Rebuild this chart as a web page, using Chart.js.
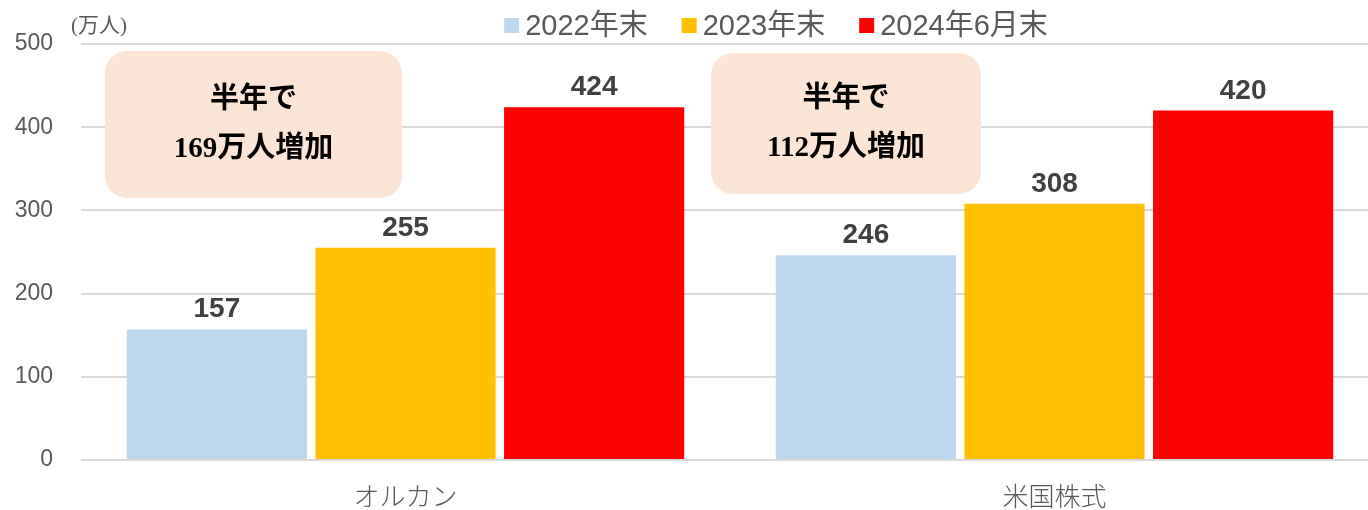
<!DOCTYPE html>
<html>
<head>
<meta charset="utf-8">
<script src="https://cdn.jsdelivr.net/npm/chart.js@4.4.0/dist/chart.umd.min.js"></script>
<style>
  html, body { margin: 0; padding: 0; background: #fff; overflow: hidden; }
  #wrap { width: 1380px; height: 510px; position: relative; }
</style>
</head>
<body>
<div id="wrap"><canvas id="chart"></canvas></div>
<script>
// data
var categories = ['オルカン', '米国株式'];
var seriesNames = ['2022年末', '2023年末', '2024年6月末'];
var values2022 = [157, 246];
var values2023 = [255, 308];
var values2024 = [424, 420];
var yTicks = [0, 100, 200, 300, 400, 500];
var unitLabel = '(万人)';
var noteLines = [
  ['半年で', '169万人増加'],
  ['半年で', '112万人増加']
];

var colors = ['#BDD7EE', '#FFC000', '#FF0000'];
var sansFont = '"Liberation Sans", Arial, "Noto Sans CJK JP", sans-serif';
var serifFont = '"Liberation Serif", "DejaVu Serif", "Noto Sans CJK JP", serif';

// labels above each bar
var barLabels = {
  id: 'barLabels',
  afterDatasetsDraw: function(chart) {
    var ctx = chart.ctx;
    ctx.save();
    ctx.font = 'bold 28px ' + sansFont;
    ctx.fillStyle = '#404040';
    ctx.textAlign = 'center';
    ctx.textBaseline = 'alphabetic';
    chart.data.datasets.forEach(function(ds, i) {
      var meta = chart.getDatasetMeta(i);
      meta.data.forEach(function(bar, j) {
        ctx.fillText(String(ds.data[j]), bar.x, bar.y - 12);
      });
    });
    ctx.restore();
  }
};

// legend, unit and the two rounded notes
var extras = {
  id: 'extras',
  afterDraw: function(chart) {
    var ctx = chart.ctx;
    var area = chart.chartArea;
    ctx.save();

    // unit label
    ctx.font = '21px ' + serifFont;
    ctx.fillStyle = '#595959';
    ctx.textAlign = 'left';
    ctx.textBaseline = 'middle';
    ctx.fillText(unitLabel, area.left - 10, 26);

    // legend
    ctx.font = '29px ' + sansFont;
    var box = 15, gapText = 6, gapItem = 34;
    var widths = seriesNames.map(function(n) { return box + gapText + ctx.measureText(n).width; });
    var total = widths.reduce(function(a, b) { return a + b; }, 0) + gapItem * (widths.length - 1);
    var x = 776 - total / 2;
    seriesNames.forEach(function(n, i) {
      ctx.fillStyle = colors[i];
      ctx.fillRect(x, 18, box, box);
      ctx.fillStyle = '#595959';
      ctx.textBaseline = 'middle';
      ctx.fillText(n, x + box + gapText, 27);
      x += widths[i] + gapItem;
    });

    // notes
    var rects = [
      { x: 105, y: 51, w: 297, h: 147 },
      { x: 711, y: 53, w: 270, h: 141 }
    ];
    rects.forEach(function(r, i) {
      ctx.fillStyle = '#FBE5D6';
      ctx.beginPath();
      ctx.roundRect(r.x, r.y, r.w, r.h, 22);
      ctx.fill();
      ctx.fillStyle = '#000000';
      ctx.font = 'bold 29px ' + serifFont;
      ctx.textAlign = 'center';
      ctx.textBaseline = 'middle';
      var cx = r.x + r.w / 2, cy = r.y + r.h / 2;
      ctx.fillText(noteLines[i][0], cx, cy - 24);
      ctx.fillText(noteLines[i][1], cx, cy + 25);
    });
    ctx.restore();
  }
};

var chart = new Chart(document.getElementById('chart').getContext('2d'), {
  type: 'bar',
  data: {
    labels: categories,
    datasets: [
      { label: seriesNames[0], data: values2022, backgroundColor: colors[0] },
      { label: seriesNames[1], data: values2023, backgroundColor: colors[1] },
      { label: seriesNames[2], data: values2024, backgroundColor: colors[2] }
    ]
  },
  options: {
    responsive: true,
    maintainAspectRatio: false,
    animation: false,
    barPercentage: 0.955,
    categoryPercentage: 0.872,
    layout: { padding: { top: 44, right: 1, left: 0, bottom: 0 } },
    plugins: {
      legend: { display: false },
      tooltip: { enabled: false }
    },
    scales: {
      x: {
        grid: { display: false },
        border: { display: false },
        ticks: {
          color: '#595959',
          padding: 13,
          font: { family: '"Noto Sans CJK JP", sans-serif', size: 26, weight: 300 }
        },
        afterFit: function(scale) { scale.height = 50; }
      },
      y: {
        min: 0,
        max: 500,
        afterBuildTicks: function(scale) {
          scale.ticks = yTicks.map(function(v) { return { value: v }; });
        },
        grid: { color: '#D9D9D9', lineWidth: 2, drawTicks: false },
        border: { display: false },
        ticks: {
          color: '#595959',
          padding: 28,
          font: { family: sansFont, size: 23 }
        },
        afterFit: function(scale) { scale.width = 81; }
      }
    }
  },
  plugins: [barLabels, extras]
});
</script>
</body>
</html>
